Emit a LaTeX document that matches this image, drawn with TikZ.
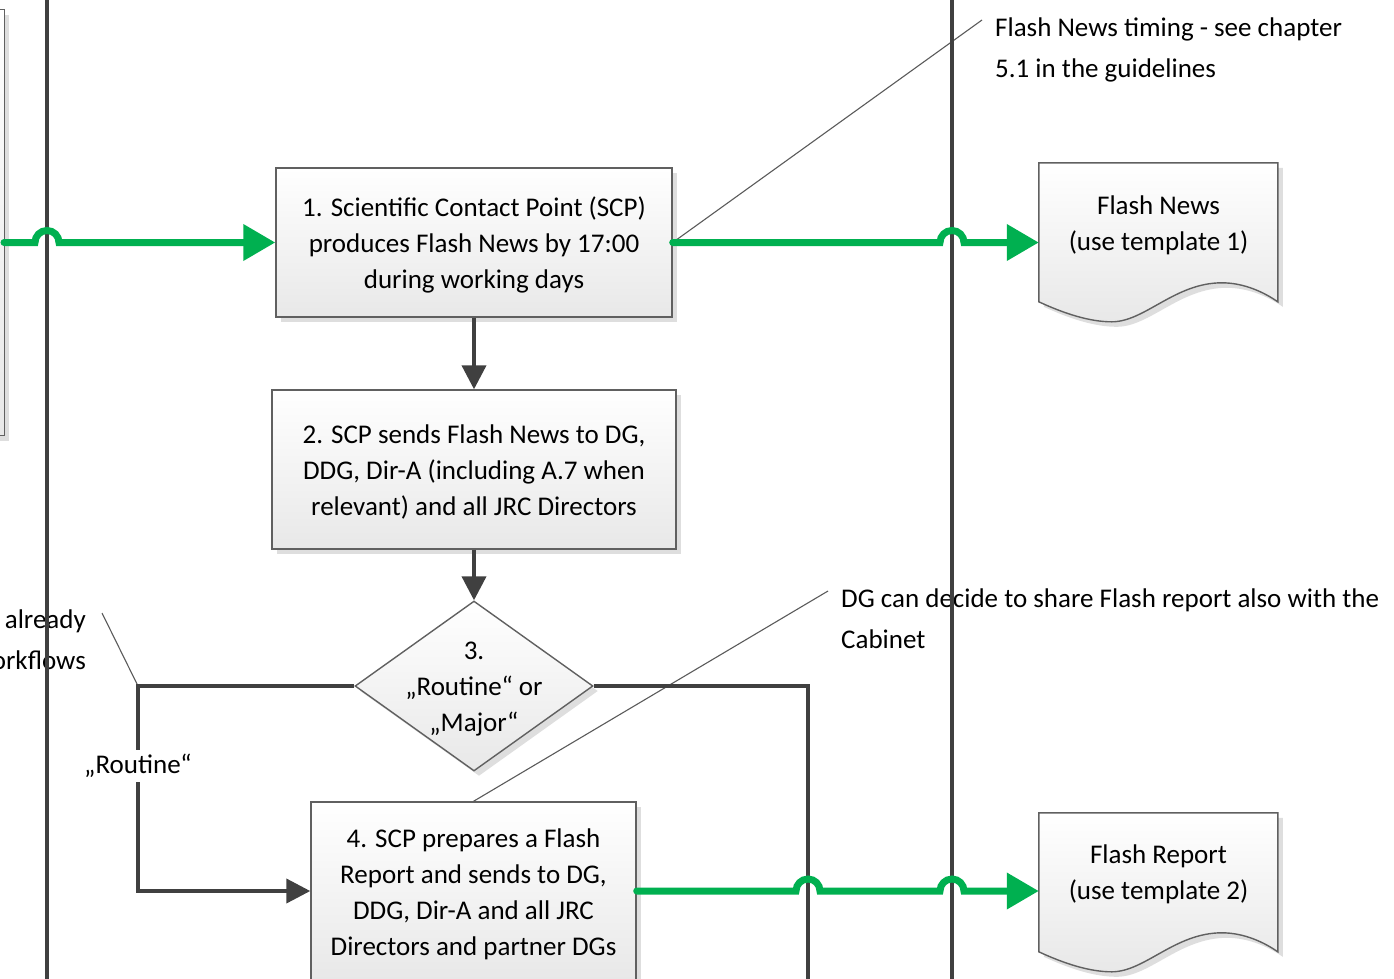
\documentclass[tikz,border=0pt]{standalone}
\usepackage{fontspec}
\setmainfont{Carlito}
\usetikzlibrary{arrows.meta,shapes.geometric,shadows,calc}
\definecolor{lane}{HTML}{404040}
\definecolor{flowgreen}{HTML}{00B050}
\definecolor{boxline}{HTML}{606060}
\definecolor{callout}{HTML}{5A5A5A}
\begin{document}
\begin{tikzpicture}[x=1pt,y=-1pt,
  txt/.style={font=\fontsize{27}{36}\selectfont, align=center, inner sep=0pt},
  note/.style={font=\fontsize{27}{41}\selectfont, inner sep=0pt},
  boxshade/.style={draw=boxline, line width=1.4pt, top color=white, bottom color=black!9},
  softshadow/.style={drop shadow={shadow xshift=5pt, shadow yshift=-5pt, fill=black!13, opacity=1}},
  procbox/.style={rectangle, boxshade, softshadow, txt},
  decision/.style={diamond, boxshade, softshadow, inner sep=0pt, minimum width=238pt, minimum height=170pt},
  docanchor/.style={rectangle, draw=none, inner sep=0pt, minimum width=239pt},
  lanestyle/.style={draw=lane, line width=4pt},
  flow/.style={draw=lane, line width=4pt, -{Triangle[length=24pt,width=24pt]}},
  greenflow/.style={draw=flowgreen, line width=7pt, line cap=round, -{Triangle[length=32pt,width=35pt]}},
  calloutline/.style={draw=callout, line width=1.1pt},
  labelbox/.style={txt, fill=white, inner xsep=2pt, inner ysep=4pt}
]
\useasboundingbox (0,0) rectangle (1394,978);
\clip (0,0) rectangle (1394,978);

% lane references
\coordinate (L1) at (47,0);
\coordinate (L2) at (952,0);
\coordinate (L3) at (808,0);
\coordinate (rcx) at (138,0);

% partial box at the left edge
\node[rectangle, boxshade, softshadow, minimum width=80pt, minimum height=426pt, anchor=north east] (box0) at (5,9) {};

% process boxes
\node[procbox, minimum width=396pt, minimum height=149pt] (box1) at (474,242.5)
  {\rule{0pt}{25pt}1. Scientific Contact Point (SCP)\\produces Flash News by 17:00\\during working days};
\node[procbox, minimum width=404pt, minimum height=159pt] (box2) at (474,469.5)
  {\rule{0pt}{24pt}2. SCP sends Flash News to DG,\\DDG, Dir-A (including A.7 when\\relevant) and all JRC Directors};
\node[decision] (dec) at (474,686) {};
\node[txt] (dectext) at ([yshift=-3pt]dec.center) {3.\\„Routine“ or\\„Major“};
\node[procbox, minimum width=325pt, minimum height=178pt] (box4) at (473.5,891)
  {\rule{0pt}{25pt}4. SCP prepares a Flash\\Report and sends to DG,\\DDG, Dir-A and all JRC\\Directors and partner DGs};

% documents
\node[docanchor, minimum height=159pt] (doc1) at (1158.5,242.5) {};
\node[docanchor, minimum height=156pt] (doc2) at (1158.5,891) {};
\foreach \d in {doc1,doc2}{
  \begin{scope}[shift={(\d.north west)}]
    \fill[black!13, shift={(5,5)}] (0,0) -- (239,0) -- (239,139)
      .. controls (226,130) and (206,120) .. (183,120)
      .. controls (136,120) and (106,159) .. (73,159)
      .. controls (51,159) and (26,151) .. (0,139) -- cycle;
    \path[boxshade] (0,0) -- (239,0) -- (239,139)
      .. controls (226,130) and (206,120) .. (183,120)
      .. controls (136,120) and (106,159) .. (73,159)
      .. controls (51,159) and (26,151) .. (0,139) -- cycle;
  \end{scope}
}
\node[txt] (doc1text) at (1158.5,225) {Flash News\\(use template 1)};
\node[txt] (doc2text) at (1158.5,874.5) {Flash Report\\(use template 2)};

% annotations
\node[note, align=left, anchor=north west] (n1) at (995,17.5)
  {Flash News timing - see chapter\\5.1 in the guidelines};
\node[note, align=left, anchor=north west] (n2) at (841,588.5)
  {DG can decide to share Flash report also with the\\Cabinet};
\node[note, align=right, anchor=north east] (n3) at (86,610)
  {already\\workflows};

% callout lines
\coordinate (co1) at (982,20);
\coordinate (co2) at (828,591);
\coordinate (co3) at (102,613);
\draw[calloutline] (box1.east) -- (co1);
\draw[calloutline] (box4.north) -- (co2);
\draw[calloutline] (dec.west -| rcx) -- (co3);

% swimlane lines
\draw[lanestyle] (47,-5) -- (47,985);
\draw[lanestyle] (952,-5) -- (952,985);

% dark connectors
\draw[flow] (box1.south) -- (box2.north);
\draw[flow] (box2.south) -- (dec.north);
\draw[flow] (dec.west) -- (dec.west -| rcx) -- (box4.west -| rcx) -- (box4.west);
\node[labelbox] (routine) at (138,766) {„Routine“};
\coordinate (rend) at (808,990);
\draw[lanestyle] (dec.east) -- (dec.east -| rend) -- (rend);

% green flows with line hops
\coordinate (gstart) at (4,242.5);
\draw[greenflow] (gstart) -- ($(gstart -| L1)+(-12,0)$) arc[start angle=180,end angle=360,radius=12] -- (box1.west);
\draw[greenflow] (box1.east) -- ($(box1.east -| L2)+(-12,0)$) arc[start angle=180,end angle=360,radius=12] -- (doc1.west);
\draw[greenflow] (box4.east) -- ($(box4.east -| L3)+(-12,0)$) arc[start angle=180,end angle=360,radius=12]
  -- ($(box4.east -| L2)+(-12,0)$) arc[start angle=180,end angle=360,radius=12] -- (doc2.west);
\end{tikzpicture}
\end{document}
